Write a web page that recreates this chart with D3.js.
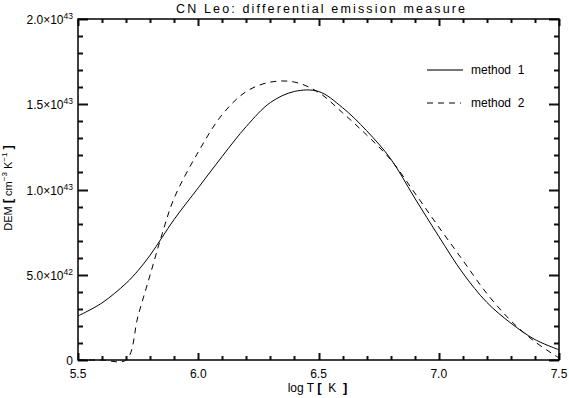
<!DOCTYPE html>
<html>
<head>
<meta charset="utf-8">
<script src="https://cdn.jsdelivr.net/npm/d3@7"></script>
<style>
body { margin: 0; background: #fff; }
svg { display: block; }
text { font-family: "Liberation Sans", Arial, sans-serif; fill: #000; }
</style>
</head>
<body>
<div id="chart"></div>
<script>
// DEM curves, values in units of 1e42 cm^-3 K^-1
var logT    = [5.5, 5.6, 5.7, 5.75, 5.8, 5.85, 5.9, 6.0, 6.1, 6.2, 6.3, 6.4, 6.5, 6.6, 6.7, 6.8, 6.9, 7.0, 7.1, 7.2, 7.3, 7.4, 7.5];
var method1 = [2.58, 3.35, 4.5, 5.25, 6.15, 7.2, 8.25, 10.1, 11.95, 13.7, 15.1, 15.75, 15.75, 14.8, 13.45, 11.8, 9.5, 7.25, 5.1, 3.38, 2.16, 1.2, 0.6];
var method2 = [0, 0, 0, 2.6, 5.0, 7.4, 9.5, 12.2, 14.4, 15.75, 16.3, 16.3, 15.7, 14.5, 13.2, 11.75, 9.8, 7.8, 5.85, 3.9, 2.3, 1.07, 0.12];

var seriesNames = ["method 1", "method 2"];

var xTicks = [5.5, 6.0, 6.5, 7.0, 7.5];
var xTickLabels = ["5.5", "6.0", "6.5", "7.0", "7.5"];
var yTicks = [0, 5, 10, 15, 20];
var yTickMant = ["0", "5.0", "1.0", "1.5", "2.0"];
var yTickExp = ["", "42", "43", "43", "43"];

var width = 569, height = 398;
var margin = {top: 19, right: 10, bottom: 38, left: 78};
var pw = width - margin.left - margin.right,
	ph = height - margin.top - margin.bottom;

var x = d3.scaleLinear().domain([5.5, 7.5]).range([0, pw]);
var y = d3.scaleLinear().domain([0, 20]).range([ph, 0]);

var svg = d3.select("#chart").append("svg")
	.attr("width", width)
	.attr("height", height);

// title
svg.append("text")
	.attr("x", margin.left + pw / 2 + 2)
	.attr("y", 13)
	.attr("text-anchor", "middle")
	.attr("font-size", "12.5px")
	.attr("textLength", 289)
	.attr("lengthAdjust", "spacing")
	.text("CN Leo: differential emission measure");

var g = svg.append("g")
	.attr("transform", "translate(" + margin.left + "," + margin.top + ")");

// ticks first, as a thick path like the test that did show
var xMinor = d3.range(55, 76).map(function(d) { return d / 10; });
var yMinor = d3.range(0, 21);
var tp = "";
xMinor.forEach(function(v, i) {
	var len = (i % 5 === 0) ? 7 : 4;
	var px = Math.round(x(v)) + 0.5;
	tp += "M" + px + "," + ph + "V" + (ph - len);
	tp += "M" + px + ",0V" + len;
});
yMinor.forEach(function(v, i) {
	var len = (i % 5 === 0) ? 10 : 5;
	var py = Math.round(y(v)) + 0.5;
	tp += "M0," + py + "H" + len;
	tp += "M" + pw + "," + py + "H" + (pw - len);
});
g.append("path")
	.attr("d", tp)
	.attr("fill", "none")
	.attr("stroke", "#111")
	.attr("stroke-width", 2);

g.append("rect")
	.attr("width", pw).attr("height", ph)
	.attr("fill", "none").attr("stroke", "#000").attr("stroke-width", 1.5);

// curves
var line = d3.line()
	.x(function(d) { return x(d[0]); })
	.y(function(d) { return y(d[1]); })
	.curve(d3.curveCatmullRom.alpha(0.5));

var dashes = [null, "6,5"];
[method1, method2].forEach(function(vals, k) {
	g.append("path")
		.datum(logT.map(function(t, i) { return [t, Math.max(0, vals[i])]; }))
		.attr("fill", "none")
		.attr("stroke", "#000")
		.attr("stroke-width", 1)
		.attr("stroke-dasharray", dashes[k])
		.attr("d", line);
});

// x tick labels
g.selectAll(".xlab")
	.data(xTicks)
	.enter().append("text")
	.attr("class", "xlab")
	.attr("x", function(d) { return x(d); })
	.attr("y", ph + 18)
	.attr("text-anchor", "middle")
	.attr("font-size", "12px")
	.text(function(d, i) { return xTickLabels[i]; });

// y tick labels with exponents
var yl = g.selectAll(".ylab")
	.data(yTicks)
	.enter().append("text")
	.attr("class", "ylab")
	.attr("x", -5)
	.attr("y", function(d) { return y(d) + 5; })
	.attr("text-anchor", "end")
	.attr("font-size", "12px");
yl.append("tspan")
	.text(function(d, i) { return yTickMant[i] + (yTickExp[i] ? "\u00d710" : ""); });
yl.append("tspan")
	.attr("dy", -5)
	.attr("font-size", "8.5px")
	.text(function(d, i) { return yTickExp[i]; });

// axis titles
svg.append("text")
	.attr("x", margin.left + pw / 2 - 1)
	.attr("y", 392)
	.attr("text-anchor", "middle")
	.attr("font-size", "12px")
	.attr("xml:space", "preserve")
	.html('log T <tspan font-size="13px" font-weight="bold">[</tspan>  K  <tspan font-size="13px" font-weight="bold">]</tspan>');

svg.append("text")
	.attr("transform", "translate(12,188) rotate(-90)")
	.attr("text-anchor", "middle")
	.attr("font-size", "11px")
	.attr("xml:space", "preserve")
	.html('DEM <tspan font-size="13px" font-weight="bold">[</tspan> cm<tspan font-size="8px" dy="-5">\u22123</tspan><tspan dy="5"> K</tspan><tspan font-size="8px" dy="-5">\u22121</tspan><tspan dy="5"> </tspan><tspan font-size="13px" font-weight="bold">]</tspan>');

// legend
var leg = svg.append("g").attr("transform", "translate(427,70)");
seriesNames.forEach(function(name, k) {
	var row = leg.append("g").attr("transform", "translate(0," + (k * 33) + ")");
	row.append("line")
		.attr("x1", 0).attr("x2", k ? 34 : 36)
		.attr("stroke", k ? "#000" : "#777")
		.attr("stroke-width", k ? 1 : 2)
		.attr("stroke-dasharray", dashes[k]);
	row.append("text")
		.attr("x", 44)
		.attr("y", 4)
		.attr("font-size", "12px")
		.attr("xml:space", "preserve")
		.text(name.replace(" ", "  "));
});
</script>
</body>
</html>
